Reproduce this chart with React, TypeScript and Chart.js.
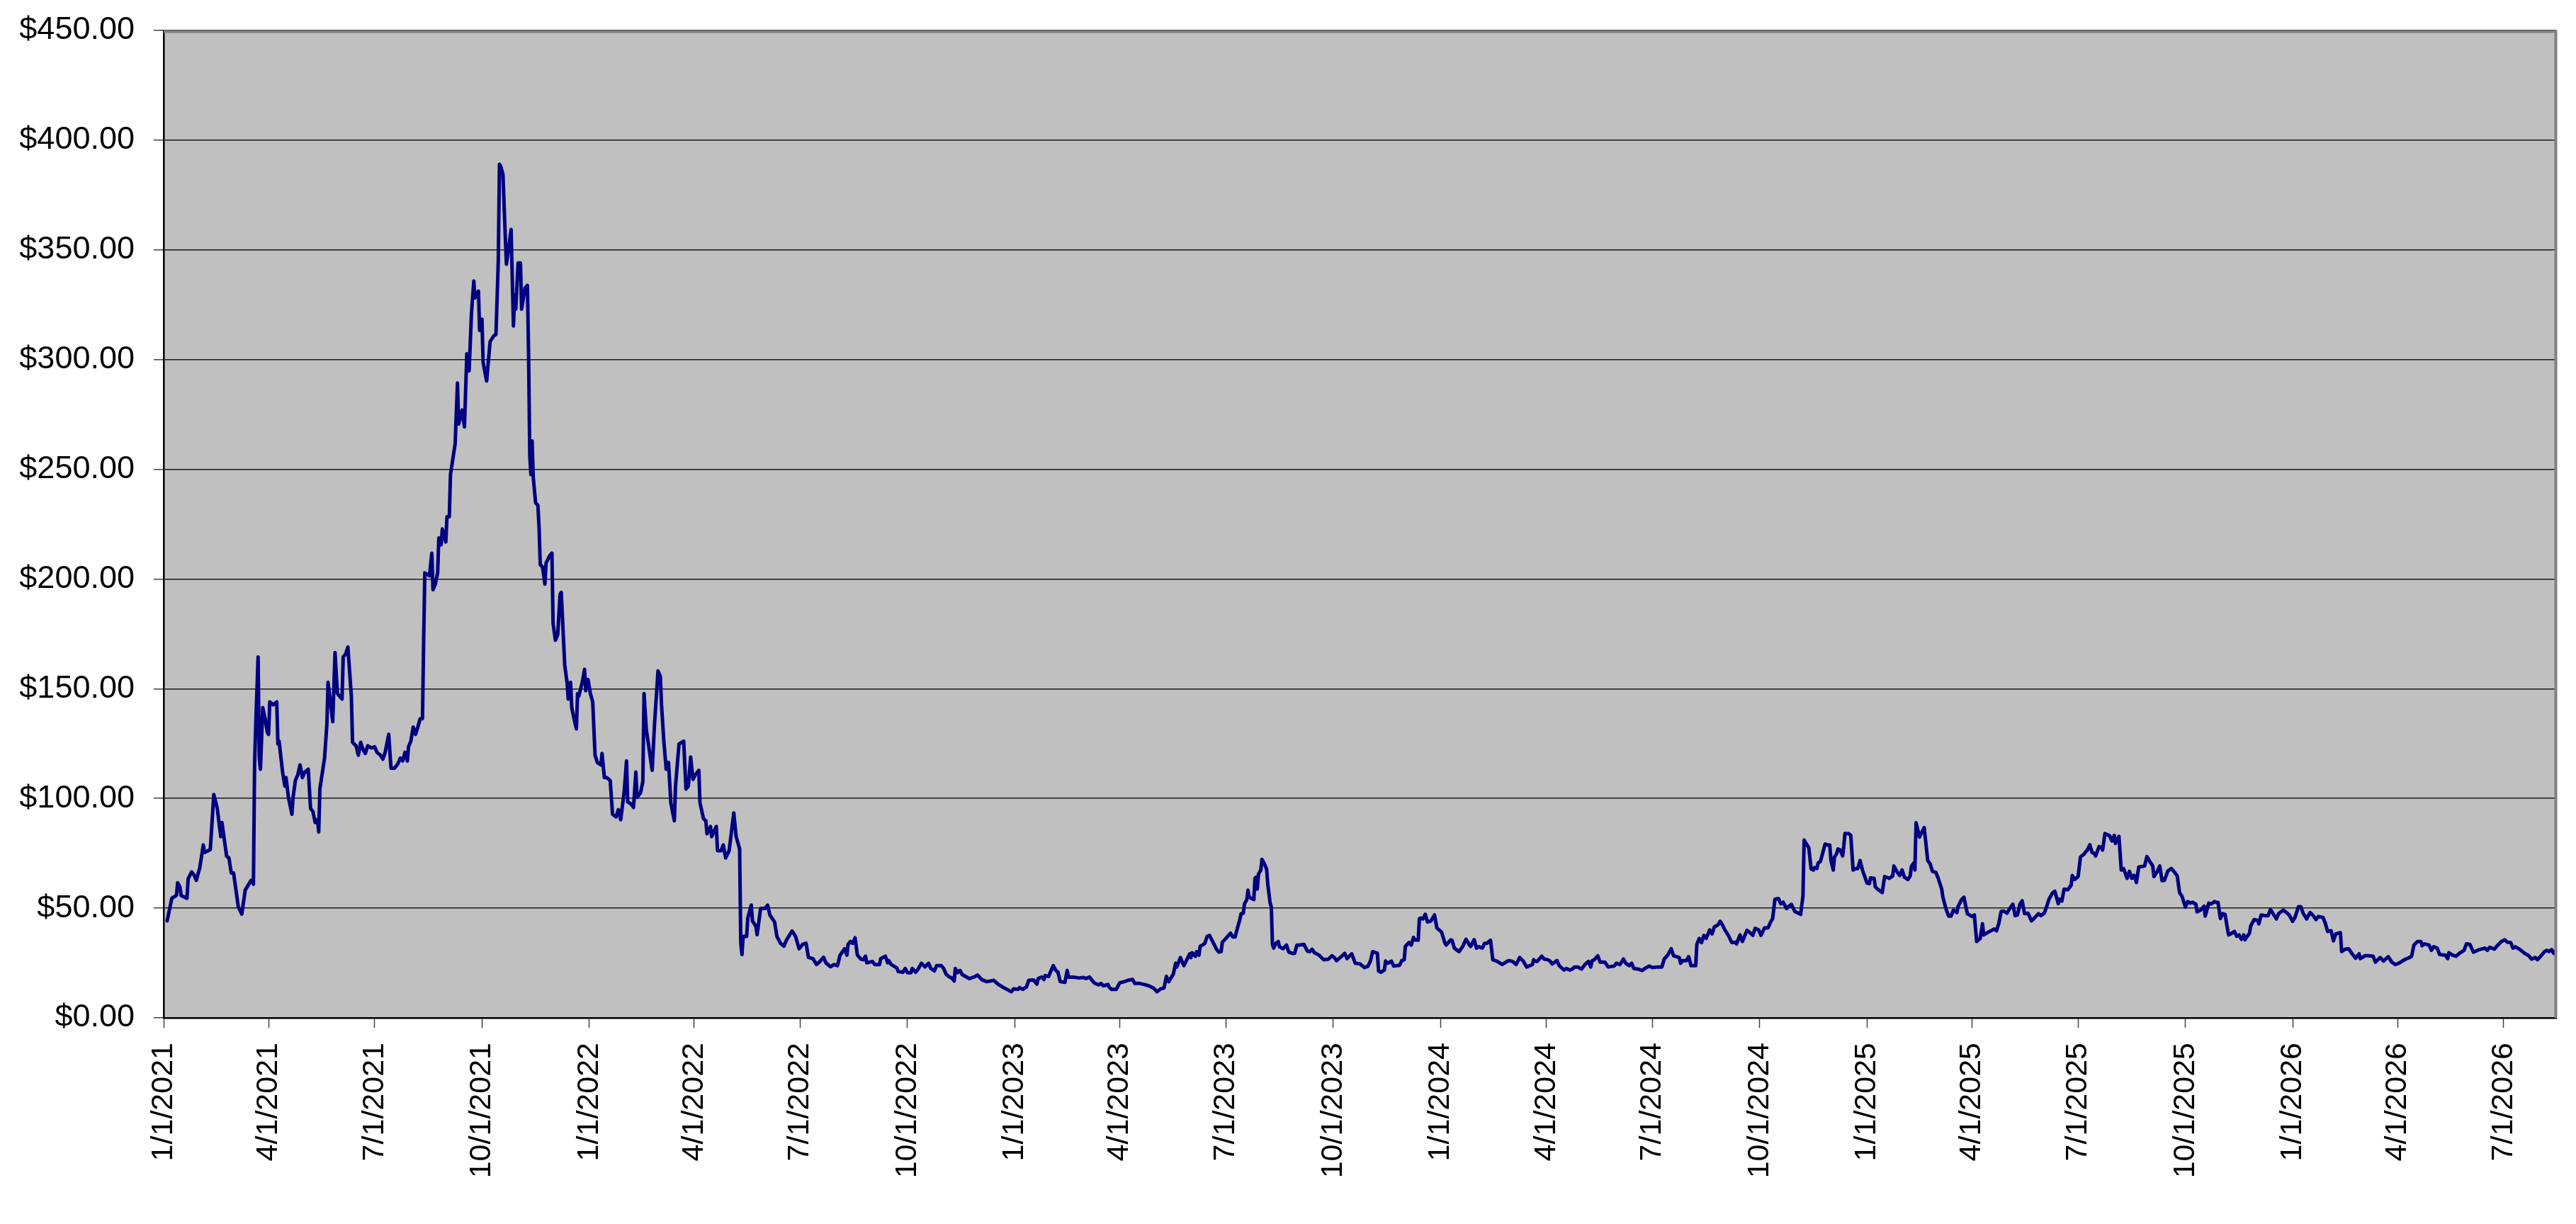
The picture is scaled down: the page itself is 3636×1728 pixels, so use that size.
import React, { useEffect, useRef } from "react";
import { Chart, registerables } from "chart.js";

Chart.register(...registerables);

// Day numbers are days since 1/1/2021; values are closing prices in $.
const START_DATE = Date.UTC(2021, 0, 1);

const tickLabels = [
  "1/1/2021", "4/1/2021", "7/1/2021", "10/1/2021",
  "1/1/2022", "4/1/2022", "7/1/2022", "10/1/2022",
  "1/1/2023", "4/1/2023", "7/1/2023", "10/1/2023",
  "1/1/2024", "4/1/2024", "7/1/2024", "10/1/2024",
  "1/1/2025", "4/1/2025", "7/1/2025", "10/1/2025",
  "1/1/2026", "4/1/2026", "7/1/2026",
];

const yTickValues = [0, 50, 100, 150, 200, 250, 300, 350, 400, 450];

const pricesPart1: [number, number][] = [
  [3, 44.2], [7, 54.5], [11, 55.8], [12, 61.6], [14, 59.6], [15, 55.8], [20, 54.5], [21, 63.4], [24, 66.5], [26, 65.2],
  [28, 62.7], [31, 68.5], [34, 78.8], [35, 75.4], [40, 76.7], [43, 101.8], [46, 95.4], [49, 82.6], [50, 89], [54, 73.7],
  [56, 72.9], [58, 66], [60, 66], [62, 58.3], [64, 50.6], [67, 47.3], [70, 58.3], [73, 60.9], [75, 62.7], [77, 60.9],
  [78, 115.9], [79, 133.8], [81, 164.5], [82, 118.4], [83, 113.3], [85, 141.4], [87, 136.3], [89, 129.9], [90, 129.2], [91, 144],
  [94, 142.7], [97, 144], [98, 124.8], [99, 126.1], [102, 112], [104, 105.6], [105, 109.5], [107, 100.5], [110, 92.8], [111, 100.5],
  [113, 108.2], [115, 110.7], [117, 115.3], [119, 109.5], [121, 112], [124, 113.3], [126, 95.4], [128, 94.1], [130, 89], [132, 90.3],
  [133, 84.7], [134, 104.3], [138, 118.4], [140, 133.8], [141, 152.9], [145, 135], [147, 166.5], [149, 147.8], [153, 145.3], [154, 164.5],
  [156, 165.7], [158, 169], [161, 146.5], [162, 125.6], [165, 124], [167, 119.7], [169, 125.6], [171, 122.3], [173, 120.5], [175, 124],
  [178, 123], [181, 123.5], [183, 121], [186, 119.7], [188, 117.9], [190, 121], [193, 129.2], [195, 113.8], [198, 113.8], [201, 115.9],
  [203, 118.4], [205, 117.1], [207, 121], [209, 117.1], [210, 123.5], [212, 126.1], [214, 132.5], [216, 129.2], [218, 132.5], [220, 136.3],
  [222, 136.3], [223, 172], [224, 202.8], [228, 201.5], [230, 211.8], [231, 195.1], [233, 197.7], [235, 202.8], [236, 218.7], [238, 215.6],
  [239, 222.8], [242, 216.9], [243, 228.4], [245, 228.4], [246, 247.6], [250, 261.6], [252, 289.3], [253, 270.6], [256, 277], [258, 269.3],
  [260, 302.6], [262, 294.9], [264, 321], [266, 335.8], [267, 328.1], [270, 331.2], [271, 313.3], [273, 318.4], [274, 298.7], [277, 290.3],
  [280, 308.2], [283, 310.7], [285, 311.5], [287, 344.8], [288, 389], [289, 388.2],
];

const pricesPart2: [number, number][] = [
  [291, 384.4], [293, 356.3], [294, 343.5], [296, 351.2], [298, 359.3], [300, 315.3], [301, 329.4], [302, 323], [304, 344], [306, 344],
  [307, 323], [310, 332.7], [312, 333.8], [313, 302.6], [314, 256.5], [315, 247.6], [316, 262.9], [317, 246.3], [319, 234.8], [321, 233.5],
  [322, 223.3], [323, 206.6], [325, 205.4], [327, 197.7], [328, 207.4], [331, 210.5], [333, 211.8], [334, 179.8], [336, 172.1], [338, 174.7],
  [340, 193.1], [341, 193.9], [344, 160.6], [346, 152.9], [347, 145.3], [349, 152.9], [350, 141.4], [352, 136.3], [354, 131.7], [355, 147.8],
  [356, 146.5], [359, 152.9], [361, 158.8], [362, 149.1], [364, 154.2], [366, 147.8], [368, 144], [370, 119.7], [372, 116.4], [375, 115.3],
  [376, 120.5], [378, 109.5], [380, 109.5], [383, 108.2], [385, 92.8], [388, 91.6], [390, 94.9], [392, 90.3], [395, 103.1], [397, 117.1],
  [398, 98.5], [401, 97.4], [403, 95.9], [405, 112], [406, 100.5], [409, 102.6], [411, 107.7], [412, 147.8], [414, 131.2], [416, 124],
  [419, 112.8], [421, 133.8], [424, 158.1], [426, 155.5], [427, 142.7], [429, 126.1], [431, 113.3], [433, 116.4], [435, 98], [438, 89.8],
  [439, 105.6], [442, 124.8], [446, 126.1], [448, 104.3], [450, 105.6], [452, 118.9], [454, 108.7], [456, 110.7], [459, 112.8], [460, 98],
  [463, 90.8], [465, 89.8], [466, 83.9], [469, 87.2], [470, 82.6], [474, 87.2], [475, 76.2], [478, 76.2], [480, 78.8], [482, 72.9],
  [485, 76.2], [489, 93.4], [491, 82.6], [494, 77], [495, 34], [496, 28.9], [497, 37.1], [500, 37.1], [501, 45.5], [504, 51.4],
  [505, 44.2], [508, 41.7], [509, 37.9], [512, 49.9], [516, 49.9], [518, 51.4], [520, 46.8], [524, 43.7], [526, 37.1], [529, 34],
  [532, 32.7], [534, 35.3], [537, 37.9], [539, 39.6], [542, 37.1], [545, 31.5], [548, 33.5], [551, 34], [553, 27.6], [557, 26.9],
  [560, 24.3], [563, 25.8], [566, 27.6], [568, 25.1], [572, 23.3], [575, 24.3], [578, 23.8], [580, 28.4], [584, 31.5],
];

const pricesPart3: [number, number][] = [
  [586, 28.6], [587, 33.5], [589, 34.8], [591, 34], [593, 36.5], [595, 28.6], [598, 26.8], [600, 26.5], [602, 28.1], [603, 25.1],
  [608, 25.7], [610, 24.3], [614, 24.3], [615, 27], [619, 28.1], [621, 25.1], [622, 26.1], [624, 24.3], [629, 22.7], [630, 21.1],
  [634, 20.8], [636, 22.5], [638, 20.6], [641, 20.6], [642, 22.5], [645, 20.8], [647, 22.2], [650, 24.9], [653, 23.2], [656, 24.9],
  [658, 22.5], [661, 21.4], [663, 23.8], [667, 23.8], [669, 22.5], [671, 20], [674, 18.6], [676, 18.2], [678, 16.8], [679, 22.5],
  [681, 20.6], [683, 21.6], [685, 19.7], [691, 17.9], [695, 18.6], [698, 19.5], [702, 17.3], [706, 16.5], [712, 17.1], [716, 15.2],
  [720, 13.9], [724, 12.8], [727, 11.9], [729, 13.2], [733, 13], [734, 13.8], [737, 13], [740, 14.1], [742, 17.1], [746, 17.3],
  [749, 15.4], [750, 17.9], [753, 18.6], [755, 17.5], [756, 19.3], [759, 18.9], [761, 21.4], [763, 23.8], [765, 21.8], [767, 20.8],
  [769, 16.5], [773, 16.2], [775, 21.6], [776, 18.6], [780, 18.6], [785, 18.2], [789, 18.4], [791, 17.9], [794, 18.6], [798, 16],
  [802, 15], [804, 15.7], [806, 14.6], [810, 15.2], [811, 13.9], [813, 13], [817, 13], [820, 16], [824, 16.5], [827, 17.1],
  [831, 17.5], [833, 15.7], [837, 15.7], [841, 15.2], [845, 14.6], [849, 13.6], [852, 11.9], [855, 13.2], [858, 13.6], [860, 18.9],
  [862, 16.5], [866, 20], [868, 24.9], [869, 23.2], [872, 27.5], [875, 23.8], [880, 29.2],
];

const pricesPart4: [number, number][] = [
  [881, 27.5], [882, 29.7], [885, 28.1], [886, 30.2], [888, 28.6], [889, 32.6], [891, 33.2], [893, 34], [895, 37.2], [897, 37.6],
  [900, 34.5], [903, 31.3], [905, 30], [907, 30.2], [908, 34.5], [911, 36.2], [915, 38.6], [917, 36.9], [919, 36.9], [921, 41],
  [923, 44.8], [924, 47.4], [926, 47.7], [927, 52], [929, 53.9], [930, 58.2], [931, 55], [935, 53.9], [936, 63.6], [937, 64.1],
  [938, 58.7], [939, 65.5], [941, 67.4], [942, 72.2], [944, 70.3], [946, 67.8], [947, 60.9], [949, 52.3], [950, 50.7], [951, 33.5],
  [952, 31.8], [954, 34], [956, 34.8], [957, 32.4], [960, 31.5], [963, 33.2], [965, 30], [968, 29.4], [970, 29.4], [972, 33.2],
  [974, 33.2], [978, 33.5], [981, 30.4], [983, 30.2], [985, 31.3], [987, 29.7], [991, 28.6], [995, 26.5], [999, 26.8], [1002, 28.3],
  [1004, 27.5], [1006, 26.1], [1010, 27.9], [1013, 29.4], [1015, 27], [1019, 29.2], [1022, 24.9], [1026, 24.6], [1030, 22.9], [1033, 23.6],
  [1035, 25.9], [1037, 30.2], [1041, 29.4], [1042, 21.4], [1044, 20.8], [1047, 21.8], [1048, 25.9], [1050, 24.9], [1053, 25.9], [1055, 23.6],
  [1060, 24], [1062, 26.1], [1064, 26.5], [1065, 32.6], [1068, 34.3], [1070, 33.2], [1072, 36.7], [1073, 35.6], [1076, 35.4], [1077, 45.1],
  [1078, 45.5], [1080, 45.1], [1082, 47.2], [1084, 43.7], [1087, 44.2], [1090, 46.9], [1092, 41], [1096, 39.1], [1099, 34], [1100, 33.2],
  [1104, 35.6], [1105, 35.4], [1107, 31.8], [1111, 30.2], [1114, 32.4], [1117, 35.8], [1120, 33.2], [1121, 32.6], [1124, 35.6], [1126, 31.8],
  [1128, 32.4], [1131, 31.8], [1133, 34], [1135, 34], [1138, 35.4], [1140, 26.5], [1144, 25.7], [1148, 24.3], [1152, 25.7], [1154, 26.1],
  [1157, 25.7], [1160, 24.3], [1163, 27.5], [1166, 25.9], [1169, 23.2], [1174, 24.3], [1175, 26.5],
];

const pricesPart5: [number, number][] = [
  [1176, 25.9], [1178, 25.7], [1182, 28.1], [1184, 26.8], [1187, 26.5], [1189, 25.9], [1191, 24.6], [1195, 26.1], [1197, 23.8], [1201, 21.8],
  [1203, 22.5], [1206, 21.8], [1208, 22.2], [1210, 23.2], [1213, 23.2], [1216, 22.2], [1219, 24.3], [1222, 25.7], [1224, 23.2], [1225, 25.9],
  [1227, 26.5], [1230, 28.3], [1232, 25.4], [1236, 25.4], [1239, 23.2], [1244, 23.6], [1246, 24.9], [1249, 24.3], [1252, 26.8], [1254, 24.9],
  [1257, 23.8], [1259, 24.9], [1261, 22.5], [1265, 22.2], [1268, 21.6], [1271, 22.7], [1274, 23.6], [1277, 22.9], [1281, 23.2], [1285, 23.2],
  [1287, 26.8], [1290, 28.6], [1293, 31.5], [1295, 28.3], [1300, 27.5], [1301, 24.9], [1303, 26.1], [1306, 26.1], [1308, 27.9], [1310, 23.8],
  [1314, 23.8], [1315, 33.5], [1317, 36.2], [1319, 34.3], [1321, 37.6], [1323, 36.2], [1326, 40.1], [1328, 38.3], [1330, 41.5], [1333, 42.3],
  [1335, 44], [1337, 42.3], [1339, 40.1], [1342, 37.6], [1345, 34.3], [1348, 34.5], [1349, 33.7], [1352, 37.8], [1354, 34.8], [1358, 39.9],
  [1360, 39.1], [1363, 37.6], [1365, 40.8], [1368, 40.1], [1370, 37.6], [1373, 41], [1376, 41], [1378, 43.4], [1380, 45.3], [1382, 54.1],
  [1385, 54.4], [1387, 52], [1389, 52.7], [1392, 49.8], [1394, 50.9], [1396, 51.8], [1399, 48.5], [1404, 47.2], [1406, 55.5], [1407, 81],
  [1409, 79.2], [1411, 77.5], [1413, 67.9], [1415, 67.4], [1416, 68.5], [1418, 68.1], [1419, 70.6], [1421, 71.3], [1425, 79.2], [1427, 78.8],
  [1429, 78.8], [1430, 71.7], [1432, 67.4], [1433, 73.3], [1435, 74.9], [1436, 77], [1438, 76.5], [1440, 73.8], [1441, 78.1], [1442, 84],
  [1445, 84], [1447, 83.2], [1449, 67.4], [1451, 68], [1453, 68], [1455, 71.7], [1457, 67.4], [1461, 61.4], [1463, 61.2], [1464, 63.8],
  [1467, 63.6], [1468, 59.8],
];

const pricesPart6: [number, number][] = [
  [1470, 58.7], [1474, 57.1], [1476, 64.4], [1480, 63.6], [1483, 64.7], [1484, 69.2], [1487, 66.3], [1489, 64.9], [1491, 67.4], [1493, 64.1],
  [1496, 63.1], [1498, 64.7], [1499, 69], [1501, 70.6], [1502, 67.4], [1503, 88.9], [1506, 82.4], [1508, 84.6], [1510, 86.7], [1513, 71.7],
  [1515, 70.3], [1517, 66.8], [1520, 66.3], [1522, 63.6], [1525, 58.7], [1526, 55], [1529, 49.1], [1531, 46.4], [1533, 46.4], [1535, 49.1],
  [1538, 48], [1539, 50.7], [1542, 53.9], [1544, 55], [1547, 47.5], [1551, 46.2], [1553, 46.9], [1555, 34.8], [1558, 36.2], [1560, 42.9],
  [1561, 37.8], [1564, 38.8], [1568, 39.9], [1570, 40.5], [1572, 39.7], [1574, 43.1], [1576, 48.5], [1578, 48.7], [1581, 47.7], [1583, 49.6],
  [1586, 51.8], [1588, 46.6], [1590, 46.9], [1592, 51.8], [1594, 53.4], [1596, 47.5], [1599, 47.7], [1602, 44.2], [1605, 45.8], [1608, 47.5],
  [1610, 46.6], [1613, 47.7], [1615, 50.7], [1617, 54.1], [1620, 56.9], [1622, 57.7], [1625, 52], [1626, 54.1], [1628, 53.2], [1630, 58.7],
  [1633, 58.4], [1636, 60.4], [1637, 64.9], [1639, 63.1], [1642, 64.4], [1644, 73.3], [1647, 74.6], [1649, 76], [1650, 76.5], [1652, 78.9],
  [1654, 75.4], [1656, 74.9], [1657, 73.8], [1660, 78.1], [1662, 77.5], [1663, 76.5], [1665, 84], [1667, 83.5], [1669, 83], [1671, 80.6],
  [1673, 83.2], [1674, 79.5], [1677, 82.7], [1679, 67.4], [1681, 68], [1684, 63.6], [1686, 66.8], [1688, 63.6], [1690, 64.9], [1692, 61.7],
  [1694, 68.8], [1697, 69], [1699, 69.2], [1701, 73.5], [1703, 71.7], [1706, 69.2], [1707, 64.4], [1710, 66.8], [1712, 69.2], [1714, 62.5],
  [1716, 62.7], [1719, 67], [1722, 68.1], [1724, 66.8], [1727, 64.7], [1729, 57.1], [1731, 55.5], [1734, 50.5], [1736, 53], [1738, 52.3],
  [1740, 52.7], [1743, 51.8], [1744, 48.3], [1747, 49.1], [1750, 50.9], [1751, 46.4], [1754, 52.3], [1756, 51.9], [1759, 53], [1761, 52.5],
];

const pricesPart7: [number, number][] = [
  [1762, 52.6], [1764, 45.3], [1766, 47.5], [1768, 47.2], [1771, 37.8], [1773, 38.3], [1776, 39.4], [1778, 37.2], [1780, 37.8], [1782, 35.8],
  [1784, 37.8], [1785, 35.6], [1789, 38.6], [1790, 41.9], [1793, 44.8], [1796, 44.4], [1797, 42.9], [1799, 46.9], [1802, 46.6], [1805, 46.6],
  [1807, 49.4], [1809, 47.7], [1812, 45.1], [1814, 47.5], [1818, 49.1], [1820, 48.3], [1823, 46.9], [1826, 44], [1828, 45.8], [1831, 50.7],
  [1833, 50.7], [1835, 47.7], [1838, 45.1], [1841, 48], [1844, 46.4], [1846, 44.8], [1848, 46.2], [1852, 45.8], [1854, 43.1], [1856, 39.4],
  [1859, 39.7], [1861, 35.1], [1863, 38.3], [1867, 38.8], [1868, 30.2], [1871, 31.3], [1874, 31.5], [1877, 29.2], [1880, 27.2], [1883, 29.2],
  [1884, 27], [1888, 28.3], [1891, 28.3], [1895, 28.1], [1897, 25.4], [1901, 27.5], [1904, 25.9], [1908, 27.9], [1911, 25.4], [1914, 24.3],
  [1917, 24.9], [1920, 25.9], [1923, 26.8], [1925, 27.2], [1928, 28.1], [1930, 33.2], [1933, 34.8], [1936, 34.8], [1937, 32.9], [1939, 33.7],
  [1943, 33.2], [1945, 30.8], [1947, 32.4], [1950, 31.8], [1952, 28.9], [1957, 28.6], [1959, 27], [1960, 29.7], [1963, 28.6], [1966, 28.1],
  [1969, 29.4], [1973, 30.8], [1975, 33.7], [1978, 33.5], [1981, 30], [1983, 30.4], [1986, 31.1], [1989, 31.5], [1991, 31.8], [1993, 30.8],
  [1995, 32.2], [1999, 31.3], [2001, 32.6], [2005, 34.8], [2008, 35.6], [2010, 34.5], [2013, 34.3], [2015, 31.8], [2017, 32.4], [2021, 31.1],
  [2025, 29.4], [2028, 28.6], [2031, 26.8], [2034, 27.5], [2036, 26.5], [2039, 28.3], [2042, 30.2], [2044, 30.8], [2046, 30.2], [2048, 31.1],
  [2050, 29.4], [2052, 30.8],
];

const allPrices = [
  ...pricesPart1, ...pricesPart2, ...pricesPart3, ...pricesPart4,
  ...pricesPart5, ...pricesPart6, ...pricesPart7,
];

function labelToDay(label: string): number {
  const [m, d, y] = label.split("/").map(Number);
  return Math.round((Date.UTC(y, m - 1, d) - START_DATE) / 86400000);
}

const tickDays = tickLabels.map(labelToDay);
const lastDay = allPrices[allPrices.length - 1][0];

const FONT = "'Liberation Sans', Arial, Helvetica, sans-serif";

const plotFrame = {
  id: "plotFrame",
  beforeDraw(chart: any) {
    const { ctx, chartArea } = chart;
    const { left, top, width, height } = chartArea;
    ctx.save();
    ctx.fillStyle = "#C0C0C0";
    ctx.fillRect(left, top, width, height);
    ctx.restore();
  },
  afterDatasetsDraw(chart: any) {
    const { ctx, chartArea } = chart;
    const { left, top, right, bottom } = chartArea;
    ctx.save();
    ctx.strokeStyle = "#808080";
    ctx.lineWidth = 4;
    ctx.beginPath();
    ctx.moveTo(left, top + 1.5);
    ctx.lineTo(right - 0.5, top + 1.5);
    ctx.lineTo(right - 0.5, bottom);
    ctx.stroke();
    ctx.restore();
  },
};

export default function App() {
  const canvasRef = useRef<HTMLCanvasElement | null>(null);

  useEffect(() => {
    document.body.style.margin = "0";
    const canvas = canvasRef.current;
    if (!canvas) return;
    const chart = new Chart(canvas, {
      type: "line",
      data: {
        datasets: [
          {
            label: "Price",
            data: allPrices.map(([x, y]) => ({ x, y })),
            borderColor: "#000080",
            backgroundColor: "#000080",
            borderWidth: 5,
            pointRadius: 0,
            pointHoverRadius: 0,
            fill: false,
            tension: 0,
            borderJoinStyle: "round",
            borderCapStyle: "round",
          },
        ],
      },
      options: {
        responsive: false,
        maintainAspectRatio: false,
        animation: false,
        devicePixelRatio: 1,
        layout: { padding: { left: 0, top: 43, right: 28, bottom: 0 } },
        plugins: {
          legend: { display: false },
          tooltip: { enabled: false },
          title: { display: false },
        },
        scales: {
          x: {
            type: "linear",
            min: 0,
            max: lastDay,
            afterBuildTicks: (scale: any) => {
              scale.ticks = tickDays.map((v) => ({ value: v }));
            },
            afterFit: (scale: any) => {
              scale.height = 291;
              scale.paddingLeft = 0;
              scale.paddingRight = 0;
            },
            grid: {
              drawOnChartArea: false,
              drawTicks: true,
              tickLength: 14,
              tickColor: "#404040",
              tickWidth: 1.5,
            },
            border: { display: true, color: "#000000", width: 2.5 },
            ticks: {
              autoSkip: false,
              maxRotation: 90,
              minRotation: 90,
              padding: 21,
              color: "#000000",
              font: { family: FONT, size: 43 },
              callback: (_v: any, i: number) => tickLabels[i],
            },
          },
          y: {
            type: "linear",
            min: 0,
            max: 450,
            afterBuildTicks: (scale: any) => {
              scale.ticks = yTickValues.map((v) => ({ value: v }));
            },
            afterFit: (scale: any) => {
              scale.width = 231;
              scale.paddingTop = 0;
              scale.paddingBottom = 0;
            },
            grid: {
              color: "#1a1a1a",
              lineWidth: 1.5,
              drawTicks: true,
              tickLength: 14,
              tickColor: "#404040",
              tickWidth: 1.5,
            },
            border: { display: true, color: "#000000", width: 2.5 },
            ticks: {
              padding: 27,
              color: "#000000",
              font: { family: FONT, size: 45 },
              callback: (v: any) => "$" + Number(v).toFixed(2),
            },
          },
        },
      },
      plugins: [plotFrame],
    });
    return () => {
      chart.destroy();
    };
  }, []);

  return (
    <div
      style={{
        position: "fixed",
        left: 0,
        top: 0,
        width: 3636,
        height: 1728,
        background: "#ffffff",
      }}
    >
      <canvas
        ref={canvasRef}
        width={3636}
        height={1728}
        style={{ width: 3636, height: 1728, display: "block" }}
      />
    </div>
  );
}
